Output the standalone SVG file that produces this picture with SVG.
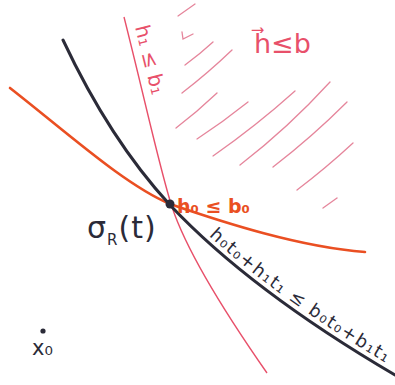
<svg xmlns="http://www.w3.org/2000/svg" width="395" height="385" viewBox="0 0 395 385">
<style>
  .hatch{fill:none;stroke:#e0708a;stroke-width:1.3;stroke-linecap:round;opacity:0.85}
  .redl{fill:none;stroke:#e8506a;stroke-width:1.4}
  .blk{fill:none;stroke:#2b2b38;stroke-width:3;stroke-linecap:round}
  .org{fill:none;stroke:#ea4f22;stroke-width:2.6;stroke-linecap:round}
  .lab{font-family:"DejaVu Sans",sans-serif}
</style>
<rect width="395" height="385" fill="#ffffff"/>
<g id="hatching">
  <path class="hatch" d="M178,16 L195,4"/>
  <path class="hatch" d="M182,32 L183,39 L193,34"/>
  <path class="hatch" d="M185,65 Q200,54 213,42"/>
  <path class="hatch" d="M182,93 Q208,73 232,50"/>
  <path class="hatch" d="M176,128 Q197,112 217,93"/>
  <path class="hatch" d="M197,139 Q223,122 248,102"/>
  <path class="hatch" d="M213,156 Q256,126 295,91"/>
  <path class="hatch" d="M240,165 Q288,128 330,82"/>
  <path class="hatch" d="M273,167 Q312,137 347,102"/>
  <path class="hatch" d="M297,190 Q326,168 353,143"/>
  <path class="hatch" d="M323,208 L337,198"/>
</g>
<g id="connectors">
  <path id="red-line" class="redl" d="M124,17 C145,100 160,170 172,207 C188,255 230,320 267,373"/>
  <path id="orange-curve" class="org" d="M10,88 C70,135 125,185 170,204 C225,223 300,247 365,252"/>
  <path id="black-curve" class="blk" d="M63,40 Q110,140 170,205 Q250,290 395,375"/>
  <path id="text-path" fill="none" stroke="none" d="M173,201 Q254,286 398,370"/>
</g>
<g id="intersection">
  <circle cx="170" cy="204" r="4.5" fill="#2b2b38"/>
</g>
<g id="x0">
  <circle cx="43" cy="331" r="2.6" fill="#2b2b38"/>
  <text class="lab" x="32" y="355" font-size="21" fill="#2b2b38">x₀</text>
</g>
<g id="label-sigma">
  <text class="lab" x="87" y="238" font-size="30" fill="#2b2b38" letter-spacing="1">σ<tspan font-size="15" dy="7">R</tspan><tspan dy="-7">(t)</tspan></text>
</g>
<g id="label-h0">
  <text class="lab" x="177" y="213" font-size="19" font-weight="bold" fill="#ea4f22">h₀ ≤ b₀</text>
</g>
<g id="label-h1">
  <text class="lab" transform="translate(135,27) rotate(76)" font-size="20" fill="#e8506a">h₁ ≤ b₁</text>
</g>
<g id="label-hvec">
  <text class="lab" x="254" y="53" font-size="27" fill="#e8506a">h⃗≤b</text>
</g>
<g id="label-sum">
  <text class="lab" font-size="18" fill="#2b2b38"><textPath href="#text-path" startOffset="50" textLength="218" lengthAdjust="spacing">h₀t₀+h₁t₁ ≤ b₀t₀+b₁t₁</textPath></text>
</g>
</svg>
